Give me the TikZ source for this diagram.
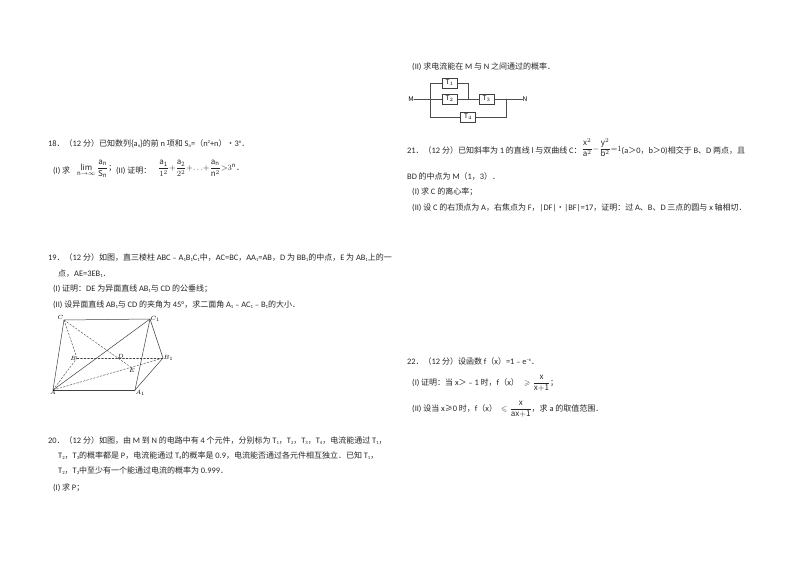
\documentclass[tikz,border=0pt]{standalone}
\usepackage{amsmath}
\usepackage{amssymb}
\usepackage{fontspec}
\setmainfont{Noto Sans CJK SC}
\newfontfamily\latfont[Scale=1.05]{Carlito}
\newcommand{\la}[1]{{\latfont #1}}
\newcommand{\rmv}[1]{\mathrm{#1}}
\newcommand{\sbs}[1]{\raisebox{-1pt}{\fontsize{4.5}{5}\selectfont\latfont #1}}
\newcommand{\sps}[1]{\raisebox{3pt}{\fontsize{4.5}{5}\selectfont\latfont #1}}
\tikzset{
  txt/.style={anchor=base west,inner sep=0pt,font=\fontsize{8}{10}\selectfont,text=black!85},
  cbox/.style={draw=black!75,fill=white,minimum width=15pt,minimum height=10.5pt,inner sep=0pt,font=\fontsize{6.5}{8}\selectfont},
  wire/.style={draw=black!70,line width=0.6pt},
  plab/.style={inner sep=0.5pt,font=\fontsize{6.5}{8}\selectfont}
}
\begin{document}
\begin{tikzpicture}[x=1pt,y=-1pt,cap=round,>=latex]
    \useasboundingbox[fill=white] (0,0) rectangle (800,565);

    % question 18
    \node[txt] (qa) at (48,146) {\la{18}．（\la{12} 分）已知数列\{\la{a}\sbs{n}\}的前 \la{n} 项和 \la{S}\sbs{n}\la{=}（\la{n}\sps{2}\la{+n}）•\la{3}\sps{n}．};
    \node[txt] (qb) at (53,173) {\la{(I)} 求};
    \node[txt] (qb1) at (77,170.5) {$\displaystyle\lim_{\rmv{n}\to\infty}\frac{\rmv{a_n}}{\rmv{S_n}}$；};
    \node[txt] (qb2) at (116,173) {\la{(II)} 证明：};
    \node[txt] (qb3) at (158,170.5) {$\displaystyle\frac{\rmv{a_1}}{1^2}{+}\frac{\rmv{a_2}}{2^2}{+}{\dots}{+}\frac{\rmv{a_n}}{\rmv{n}^2}{>}3^{\rmv{n}}$．};

    % question 19
    \node[txt] (qc) at (48,260) {\la{19}．（\la{12} 分）如图，直三棱柱 \la{ABC}﹣\la{A}\sbs{1}\la{B}\sbs{1}\la{C}\sbs{1}中，\la{AC=BC}，\la{AA}\sbs{1}\la{=AB}，\la{D} 为 \la{BB}\sbs{1}的中点，\la{E} 为 \la{AB}\sbs{1}上的一};
    \node[txt] (qd) at (58,276) {点，\la{AE=3EB}\sbs{1}．};
    \node[txt] (qe) at (53,291) {\la{(I)} 证明：\la{DE} 为异面直线 \la{AB}\sbs{1}与 \la{CD} 的公垂线；};
    \node[txt] (qf) at (53,307) {\la{(II)} 设异面直线 \la{AB}\sbs{1}与 \la{CD} 的夹角为 \la{45°}，求二面角 \la{A}\sbs{1}﹣\la{AC}\sbs{1}﹣\la{B}\sbs{1}的大小．};

    % draw the prism
    \foreach \n/\x/\y in {C/64/320,Ca/150/319,A/53/390,Aa/135/390,B/77/358,Ba/163/358,D/117/359,E/132/368}
        \coordinate (\n) at (\x,\y);
    \foreach \a/\b in {C/Ca,C/A,A/Aa,A/Ca,Ca/Aa,Ca/Ba,Aa/Ba}
        \draw[black!75,line width=0.5pt] (\a) -- (\b);
    \foreach \a/\b in {C/B,A/B,B/Ba,A/Ba,C/E}
        \draw[black!75,line width=0.4pt,dash pattern=on 2pt off 1.5pt] (\a) -- (\b);

    % draw the vertex labels
    \foreach \n/\xtext/\pos in {
        C/C/above left,
        Ca/C_1/right,
        A/A/below,
        Aa/A_1/below right,
        B/B/left,
        Ba/B_1/right,
        D/D/above right,
        E/E/below}
            \node[plab,\pos] (lab\n) at (\n) {$\xtext$};

    % question 20
    \node[txt] (qg) at (48,443) {\la{20}．（\la{12} 分）如图，由 \la{M} 到 \la{N} 的电路中有 \la{4} 个元件，分别标为 \la{T}\sbs{1}，\la{T}\sbs{2}，\la{T}\sbs{3}，\la{T}\sbs{4}，电流能通过 \la{T}\sbs{1}，};
    \node[txt] (qh) at (58,458) {\la{T}\sbs{2}，\la{T}\sbs{3}的概率都是 \la{P}，电流能通过 \la{T}\sbs{4}的概率是 \la{0.9}，电流能否通过各元件相互独立．已知 \la{T}\sbs{1}，};
    \node[txt] (qi) at (58,473) {\la{T}\sbs{2}，\la{T}\sbs{3}中至少有一个能通过电流的概率为 \la{0.999}．};
    \node[txt] (qj) at (53,490) {\la{(I)} 求 \la{P}；};

    % right column: the circuit
    \node[txt] (qk) at (412,69) {\la{(II)} 求电流能在 \la{M} 与 \la{N} 之间通过的概率．};
    \node[cbox] (T1) at (449.5,83) {$\mathrm{T}_1$};
    \node[cbox] (T2) at (449.5,99) {$\mathrm{T}_2$};
    \node[cbox] (T3) at (486.5,99) {$\mathrm{T}_3$};
    \node[cbox] (T4) at (468,117) {$\mathrm{T}_4$};
    \node[inner sep=0pt,font=\fontsize{6.5}{8}\selectfont] (M) at (411,99) {$\mathrm{M}$};
    \node[inner sep=0pt,font=\fontsize{6.5}{8}\selectfont] (N) at (525,99) {$\mathrm{N}$};
    \coordinate (jl) at (430,99);
    \coordinate (jm) at (468,99);
    \coordinate (jr) at (506,99);
    \draw[wire] (M) -- (T2);
    \draw[wire] (T2) -- (T3);
    \draw[wire] (T3) -- (N);
    \draw[wire] (jl) |- (T1);
    \draw[wire] (T1) -| (jm);
    \draw[wire] (jl) |- (T4);
    \draw[wire] (T4) -| (jr);

    % question 21
    \node[txt] (ql) at (407,153) {\la{21}．（\la{12} 分）已知斜率为 \la{1} 的直线 \la{l} 与双曲线 \la{C}：\raisebox{2pt}{$\displaystyle\frac{\rmv{x}^2}{\rmv{a}^2}{-}\frac{\rmv{y}^2}{\rmv{b}^2}{=}1$}\la{(a}＞\la{0}，\la{b}＞\la{0)}相交于 \la{B}、\la{D} 两点，且};
    \node[txt] (qm) at (407,179) {\la{BD} 的中点为 \la{M}（\la{1}，\la{3}）．};
    \node[txt] (qn) at (412,194) {\la{(I)} 求 \la{C} 的离心率；};
    \node[txt] (qo) at (412,210) {\la{(II)} 设 \la{C} 的右顶点为 \la{A}，右焦点为 \la{F}，\la{|DF|}•\la{|BF|=17}，证明：过 \la{A}、\la{B}、\la{D} 三点的圆与 \la{x} 轴相切．};

    % question 22
    \node[txt] (qp) at (407,364) {\la{22}．（\la{12} 分）设函数 \la{f}（\la{x}）\la{=1}﹣\la{e}\sps{–x}．};
    \node[txt] (qq) at (412,385) {\la{(I)} 证明：当 \la{x}＞﹣\la{1} 时，\la{f}（\la{x}）};
    \node[txt] (qq1) at (524,385) {$\geqslant\displaystyle\frac{\rmv{x}}{\rmv{x{+}1}}$；};
    \node[txt] (qr) at (412,411) {\la{(II)} 设当 \la{x}≥\la{0} 时，\la{f}（\la{x}）};
    \node[txt] (qr1) at (501,411) {$\leqslant\displaystyle\frac{\rmv{x}}{\rmv{ax{+}1}}$，求 \la{a} 的取值范围．};
\end{tikzpicture}
\end{document}
